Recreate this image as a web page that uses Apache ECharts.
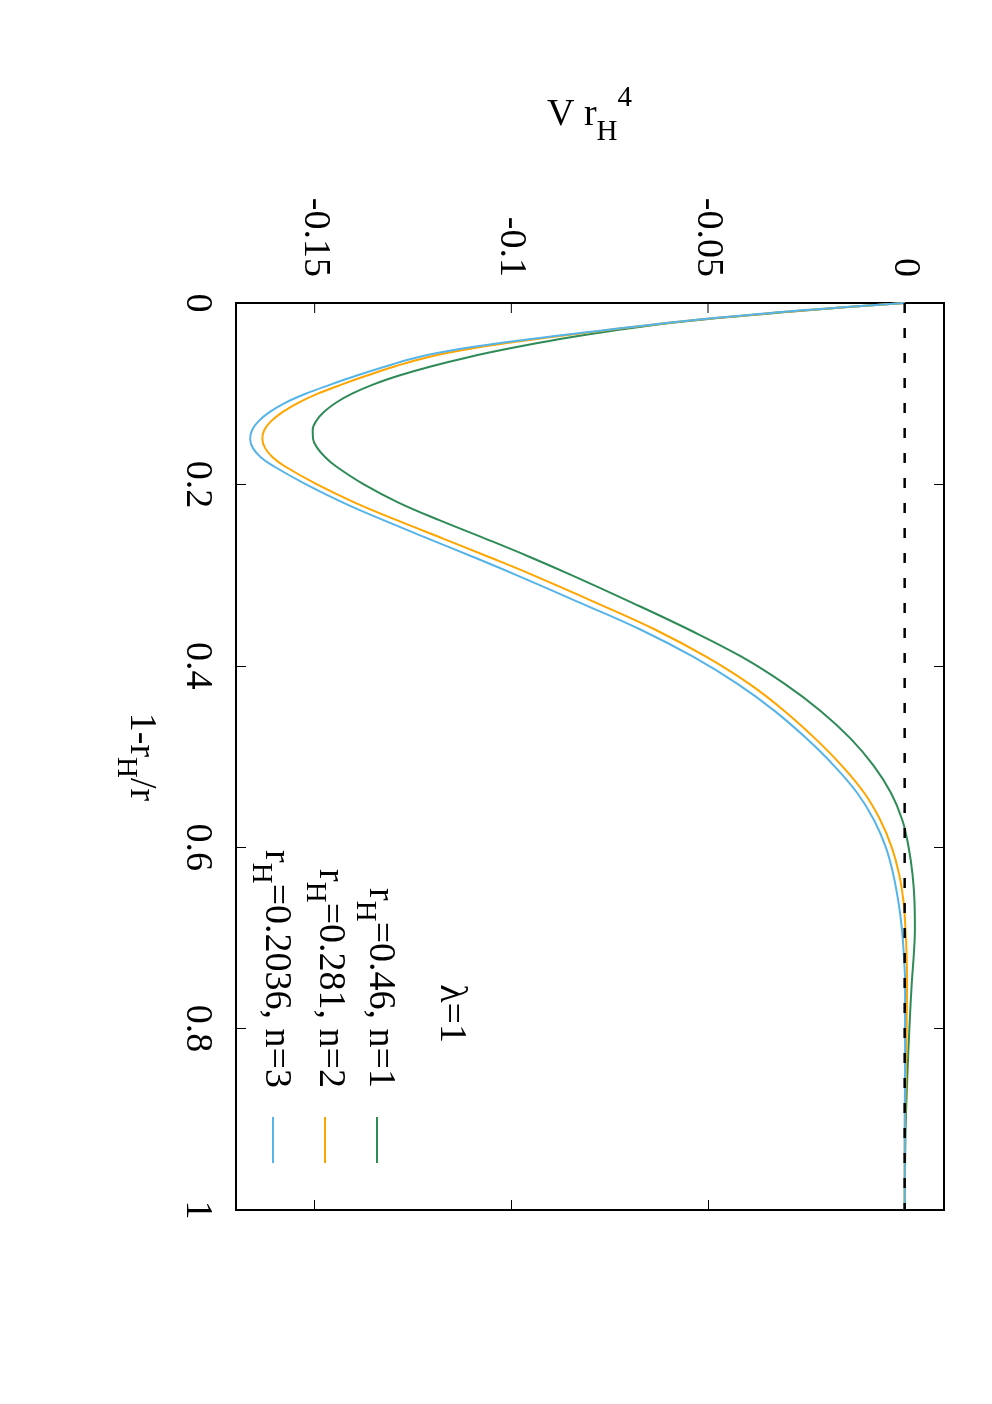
<!DOCTYPE html>
<html>
<head>
<meta charset="utf-8">
<script src="https://cdn.jsdelivr.net/npm/echarts@6/dist/echarts.min.js"></script>
<style>
html, body { margin: 0; padding: 0; background: #fff; }
#main { width: 992px; height: 1404px; }
</style>
</head>
<body>
<div id="main"></div>
<script>
// 1 - rH/r (vertical axis, 0 at top)
var xGrid = [0, 0.005, 0.01, 0.02, 0.03, 0.04, 0.05, 0.06, 0.07, 0.08, 0.09, 0.10, 0.11, 0.12, 0.13,
  0.14, 0.15, 0.16, 0.17, 0.18, 0.20, 0.22, 0.24, 0.26, 0.28, 0.30, 0.33, 0.36, 0.39, 0.42, 0.45,
  0.48, 0.51, 0.54, 0.57, 0.60, 0.63, 0.66, 0.69, 0.72, 0.75, 0.80, 0.85, 0.90, 0.95, 1.0];

// V rH^4 for each curve
var vN1 = [0, -0.016, -0.030, -0.0555, -0.0735, -0.0880, -0.1003, -0.1112, -0.1205, -0.1285, -0.1352, -0.1405, -0.1446, -0.1476, -0.1496,
  -0.1505, -0.1504, -0.1493, -0.1473, -0.1446, -0.1375, -0.1287, -0.1180, -0.1065, -0.0953, -0.0847, -0.0695, -0.0549, -0.0415, -0.0305, -0.0213,
  -0.0138, -0.0079, -0.0035, -0.0006, 0.0010, 0.0020, 0.0025, 0.0026, 0.0023, 0.0018, 0.0012, 0.0007, 0.0003, 0.0001, 0];
var vN2 = [0, -0.0163, -0.031, -0.0563, -0.0758, -0.0940, -0.1097, -0.1215, -0.1297, -0.1367, -0.1432, -0.1492, -0.1542, -0.1581, -0.1610,
  -0.1628, -0.1633, -0.1626, -0.1607, -0.1576, -0.1494, -0.1398, -0.1288, -0.1172, -0.1057, -0.0945, -0.0787, -0.0635, -0.0505, -0.0395, -0.0305,
  -0.0228, -0.0160, -0.0103, -0.0062, -0.0033, -0.0014, -0.0003, 0.0002, 0.0005, 0.0006, 0.0005, 0.0003, 0.0001, 0, 0];
var vN3 = [0, -0.0165, -0.0315, -0.0565, -0.0765, -0.0955, -0.1120, -0.1240, -0.1320, -0.1393, -0.1460, -0.1523, -0.1575, -0.1614, -0.1642,
  -0.1659, -0.1664, -0.1657, -0.1637, -0.1604, -0.1522, -0.1428, -0.1322, -0.1210, -0.1097, -0.0987, -0.0828, -0.0672, -0.0538, -0.0425, -0.0330,
  -0.0250, -0.0180, -0.0121, -0.0078, -0.0048, -0.0029, -0.0016, -0.0007, -0.0002, 0.0001, 0.0001, 0.0001, 0, 0, 0];

var zeroV = [0, 0];
var zeroX = [0, 1];

var vTicks = [-0.15, -0.1, -0.05, 0];
var curveColors = ['#2e8b57', '#ffa500', '#56b4e9'];

var FONT = 'Liberation Serif';
var ctx = document.createElement('canvas').getContext('2d');

function textWidth(t, size) {
  ctx.font = size + 'px "' + FONT + '"';
  return ctx.measureText(t).width;
}

// parts: [text, size, baseline shift (positive = down in text frame)]
function richText(parts, x, y, align, rotation) {
  var total = 0;
  parts.forEach(function (p) { total += textWidth(p[0], p[1]); });
  var cx = align === 'right' ? -total : (align === 'center' ? -total / 2 : 0);
  var children = parts.map(function (p) {
    var el = {
      type: 'text',
      x: cx,
      y: p[2] - 0.33 * p[1],
      style: {
        text: p[0],
        font: p[1] + 'px "' + FONT + '"',
        fill: '#000',
        align: 'left', verticalAlign: 'middle',
        textAlign: 'left', textVerticalAlign: 'middle'
      }
    };
    cx += textWidth(p[0], p[1]);
    return el;
  });
  return { type: 'group', x: x, y: y, rotation: rotation || 0, children: children };
}

function pairs(vs, xs) {
  return xs.map(function (x, i) { return [vs[i], x]; });
}

function legendLine(x, color) {
  return {
    type: 'line',
    shape: { x1: x, y1: 1117, x2: x, y2: 1163 },
    style: { stroke: color, lineWidth: 2 }
  };
}

function curve(name, vs, color) {
  return {
    name: name, type: 'line', data: pairs(vs, xGrid),
    showSymbol: false, smooth: 0.4,
    lineStyle: { color: color, width: 2 }, itemStyle: { color: color }
  };
}

var chart = echarts.init(document.getElementById('main'), null, { renderer: 'canvas' });

var rot = -Math.PI / 2;
var tickStyle = { color: '#000', width: 1 };

var option = {
  animation: false,
  backgroundColor: '#fff',
  grid: {
    left: 236, right: 48, top: 303, bottom: 194,
    show: true, borderColor: '#000', borderWidth: 2,
    outerBoundsMode: 'none'
  },
  xAxis: [
    {
      // labels only; y = 0 is the top edge (inverse axis)
      type: 'value', position: 'top', min: -0.17, max: 0.01,
      axisLine: { show: false },
      splitLine: { show: false },
      axisTick: { show: false },
      axisLabel: {
        customValues: vTicks, rotate: -90, margin: 26,
        fontFamily: FONT, fontSize: 38, color: '#000'
      }
    },
    {
      type: 'value', position: 'bottom', min: -0.17, max: 0.01,
      axisLine: { show: false, onZero: false },
      splitLine: { show: false },
      axisTick: { inside: true, length: 10, customValues: vTicks, lineStyle: tickStyle },
      axisLabel: { show: false }
    }
  ],
  yAxis: [
    {
      type: 'value', position: 'left', inverse: true, min: 0, max: 1, interval: 0.2,
      axisLine: { show: false, onZero: false },
      splitLine: { show: false },
      axisTick: { inside: true, length: 10, lineStyle: tickStyle },
      axisLabel: {
        rotate: -90, margin: 20, showMinLabel: true, showMaxLabel: true,
        fontFamily: FONT, fontSize: 38, color: '#000'
      }
    },
    {
      type: 'value', position: 'right', inverse: true, min: 0, max: 1, interval: 0.2,
      axisLine: { show: false, onZero: false },
      splitLine: { show: false },
      axisTick: { inside: true, length: 10, lineStyle: tickStyle },
      axisLabel: { show: false }
    }
  ],
  series: [
    curve('rH=0.46, n=1', vN1, curveColors[0]),
    curve('rH=0.281, n=2', vN2, curveColors[1]),
    curve('rH=0.2036, n=3', vN3, curveColors[2]),
    {
      name: 'zero', type: 'line', data: pairs(zeroV, zeroX),
      showSymbol: false,
      lineStyle: { color: '#000', width: 2.5, type: [10, 15] }
    }
  ],
  graphic: {
    elements: [
      richText([['V r', 38, 0], ['H', 29, 14], ['4', 29, -20]], 547, 128, 'left', 0),
      richText([['1-r', 38, 0], ['H', 29, 12], ['/r', 38, 0]], 128, 757, 'center', rot),
      richText([['\u03bb=1', 38, 0]], 438, 1043, 'right', rot),
      richText([['r', 38, 0], ['H', 29, 12], ['=0.46, n=1', 38, 0]], 367, 1088, 'right', rot),
      richText([['r', 38, 0], ['H', 29, 12], ['=0.281, n=2', 38, 0]], 317, 1088, 'right', rot),
      richText([['r', 38, 0], ['H', 29, 12], ['=0.2036, n=3', 38, 0]], 263, 1088, 'right', rot),
      legendLine(377, curveColors[0]),
      legendLine(325, curveColors[1]),
      legendLine(273, curveColors[2])
    ]
  }
};

chart.setOption(option);

// mirrored ticks on the top edge, placed through the axis scale
var topY = chart.convertToPixel({ yAxisIndex: 0 }, 0);
var topTicks = vTicks.map(function (v) {
  var px = chart.convertToPixel({ xAxisIndex: 1 }, v);
  return {
    type: 'line',
    shape: { x1: px, y1: topY, x2: px, y2: topY + 10 },
    style: { stroke: '#000', lineWidth: 1 }
  };
});
chart.setOption({ graphic: { elements: option.graphic.elements.concat(topTicks) } });
</script>
</body>
</html>
